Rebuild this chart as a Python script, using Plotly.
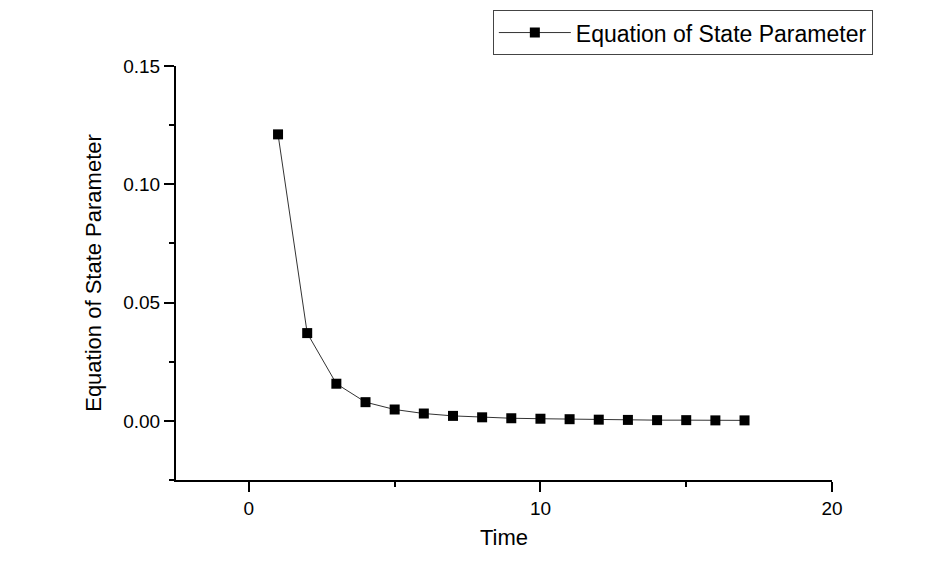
import plotly.graph_objects as go

time = [1, 2, 3, 4, 5, 6, 7, 8, 9, 10, 11, 12, 13, 14, 15, 16, 17]
eos = [0.1211, 0.0371, 0.0157, 0.0079, 0.0048, 0.0031, 0.0021, 0.0015,
       0.0011, 0.0009, 0.0007, 0.0005, 0.0004, 0.0003, 0.0003, 0.0002, 0.0002]
x_ticks = [0, 10, 20]
y_ticks = [0.00, 0.05, 0.10, 0.15]
y_labels = ["0.00", "0.05", "0.10", "0.15"]

FONT = "Liberation Sans, Arial"

fig = go.Figure()
fig.add_trace(go.Scatter(
    x=time, y=eos, mode="lines+markers", name="Equation of State Parameter",
    line=dict(color="#333333", width=1),
    marker=dict(symbol="square", size=10, color="black"),
))

axis_common = dict(
    showline=True, linecolor="black", linewidth=2, ticks="outside",
    ticklen=10, tickwidth=2, tickcolor="black", showgrid=False, zeroline=False,
    tickfont=dict(family=FONT, size=19, color="black"),
)

fig.update_xaxes(
    range=[-2.5, 20], tickvals=x_ticks, **axis_common,
    minor=dict(ticks="outside", ticklen=5, tickwidth=2, tickcolor="black", dtick=5, tick0=0),
    title=dict(text="Time", font=dict(family=FONT, size=22, color="black"), standoff=12),
)
fig.update_yaxes(
    range=[-0.025, 0.15], tickvals=y_ticks, ticktext=y_labels, **axis_common,
    minor=dict(ticks="outside", ticklen=5, tickwidth=2, tickcolor="black", dtick=0.025, tick0=0),
    title=dict(text="Equation of State Parameter", font=dict(family=FONT, size=22, color="black"), standoff=16),
)

fig.update_layout(
    width=952, height=571,
    margin=dict(l=176, r=120, t=66, b=91, autoexpand=False),
    paper_bgcolor="white", plot_bgcolor="white",
    showlegend=True,
    legend=dict(
        x=0.483, y=1.135, xanchor="left", yanchor="top",
        bordercolor="#444444", borderwidth=1, bgcolor="white",
        font=dict(family=FONT, size=23, color="black"),
        itemwidth=72, tracegroupgap=0,
    ),
)

fig.write_html("out.html")
